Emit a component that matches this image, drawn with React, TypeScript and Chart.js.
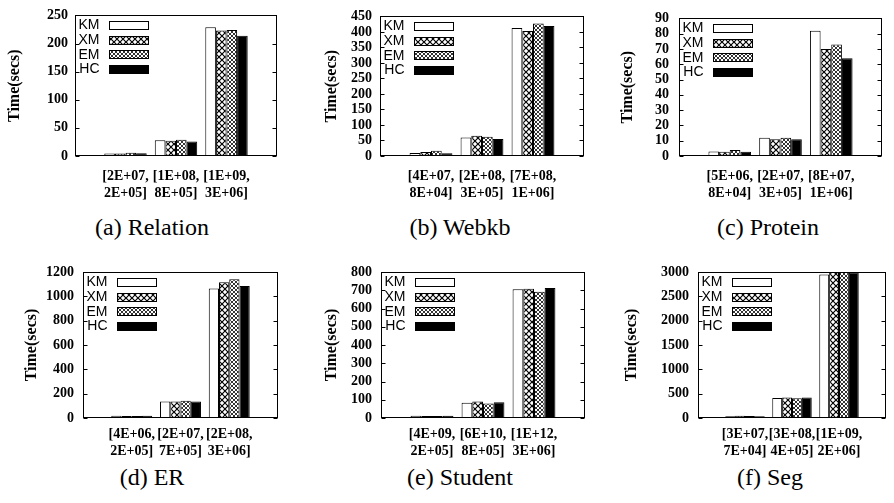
import React, { useEffect, useRef } from "react";
import { Chart, registerables } from "chart.js";

Chart.register(...registerables);

const seriesNames = ["KM", "XM", "EM", "HC"];

// (a) Relation
const relationCats = [["[2E+07,", "2E+05]"], ["[1E+08,", "8E+05]"], ["[1E+09,", "3E+06]"]];
const relationKM = [4.5, 28, 229];
const relationXM = [4.5, 27, 223];
const relationEM = [6, 29, 224];
const relationHC = [5, 26, 214];

// (b) Webkb
const webkbCats = [["[4E+07,", "8E+04]"], ["[2E+08,", "3E+05]"], ["[7E+08,", "1E+06]"]];
const webkbKM = [10, 60, 413];
const webkbXM = [13, 65, 403];
const webkbEM = [17, 62, 427];
const webkbHC = [9, 55, 419];

// (c) Protein
const proteinCats = [["[5E+06,", "8E+04]"], ["[2E+07,", "3E+05]"], ["[8E+07,", "1E+06]"]];
const proteinKM = [3, 12, 82];
const proteinXM = [2.8, 11, 70];
const proteinEM = [4, 12, 73];
const proteinHC = [2.7, 11, 64];

// (d) ER
const erCats = [["[4E+06,", "2E+05]"], ["[2E+07,", "7E+05]"], ["[2E+08,", "3E+06]"]];
const erKM = [18, 135, 1065];
const erXM = [16, 135, 1115];
const erEM = [17, 142, 1140];
const erHC = [18, 135, 1085];

// (e) Student
const studentCats = [["[4E+09,", "2E+05]"], ["[6E+10,", "8E+05]"], ["[1E+12,", "3E+06]"]];
const studentKM = [13, 84, 705];
const studentXM = [11, 90, 708];
const studentEM = [11, 80, 692];
const studentHC = [12, 86, 712];

// (f) Seg
const segCats = [["[3E+07,", "7E+04]"], ["[3E+08,", "4E+05]"], ["[1E+09,", "2E+06]"]];
const segKM = [35, 410, 2950];
const segXM = [45, 420, 3000];
const segEM = [40, 405, 3000];
const segHC = [35, 420, 2990];

const yMaxes = [250, 450, 90, 1200, 800, 3000];
const ySteps = [50, 50, 10, 200, 100, 500];
const captions = ["(a) Relation", "(b) Webkb", "(c) Protein", "(d) ER", "(e) Student", "(f) Seg"];

type Rect = { x: number; y: number; w: number; h: number };
type Frame = { l: number; r: number; t: number; b: number };

function makePattern(size: number, lw: number, color: string) {
  const c = document.createElement("canvas");
  c.width = size;
  c.height = size;
  const g = c.getContext("2d")!;
  g.fillStyle = "#fff";
  g.fillRect(0, 0, size, size);
  g.strokeStyle = color;
  g.lineWidth = lw;
  g.beginPath();
  g.moveTo(-1, -1);
  g.lineTo(size + 1, size + 1);
  g.moveTo(-1, size + 1);
  g.lineTo(size + 1, -1);
  g.stroke();
  const tmp = document.createElement("canvas").getContext("2d")!;
  return tmp.createPattern(c, "repeat")!;
}

function fills(): (string | CanvasPattern)[] {
  return ["#ffffff", makePattern(6, 1.2, "#000"), makePattern(4, 1.0, "#333"), "#000000"];
}

const SERIF = "'Liberation Serif', 'Times New Roman', serif";
const SANS = "'Liberation Sans', Arial, sans-serif";

function Panel(props: {
  rect: Rect;
  frame: Frame;
  titleX: number;
  tickPad: number;
  xPad: number;
  cats: string[][];
  values: number[][];
  yMax: number;
  yStep: number;
}) {
  const ref = useRef<HTMLCanvasElement>(null);
  useEffect(() => {
    const { rect, frame, titleX, tickPad, xPad, cats, values, yMax, yStep } = props;
    const f = fills();
    const labels: any[] = ["", ...cats, ""];
    const datasets = seriesNames.map((n, i) => ({
      label: n,
      data: [null, ...values[i], null],
      backgroundColor: f[i] as any,
      borderColor: "#000",
      borderWidth: 1,
      barPercentage: 1,
      categoryPercentage: 0.84,
    }));
    const framePlugin = {
      id: "frameLegend",
      afterDraw(chart: any) {
        const ctx = chart.ctx as CanvasRenderingContext2D;
        const { left, right, top, bottom } = chart.chartArea;
        ctx.save();
        ctx.strokeStyle = "#000";
        ctx.lineWidth = 1;
        const L = Math.round(left) + 0.5, R = Math.round(right) - 0.5;
        const T = Math.round(top) + 0.5, B = Math.round(bottom) - 0.5;
        ctx.strokeRect(L, T, R - L, B - T);
        const ys = chart.scales.y;
        ctx.beginPath();
        ys.ticks.forEach((t: any) => {
          const py = Math.round(ys.getPixelForValue(t.value)) + 0.5;
          ctx.moveTo(L, py);
          ctx.lineTo(L + 4, py);
          ctx.moveTo(R, py);
          ctx.lineTo(R - 4, py);
        });
        ctx.stroke();
        // legend
        ctx.font = `14px ${SANS}`;
        ctx.textAlign = "right";
        ctx.textBaseline = "middle";
        seriesNames.forEach((n, i) => {
          const cy = Math.round(top) + 10 + 14.7 * i;
          ctx.fillStyle = "#000";
          ctx.fillText(n, L + 24, cy + 0.5);
          const bx = Math.round(L + 33) + 0.5;
          const by = Math.round(cy - 4) + 0.5;
          ctx.fillStyle = f[i] as any;
          ctx.fillRect(bx, by, 39, 8);
          ctx.strokeRect(bx, by, 39, 8);
        });
        ctx.restore();
      },
    };
    const chart = new Chart(ref.current!, {
      type: "bar",
      data: { labels, datasets },
      plugins: [framePlugin],
      options: {
        responsive: false,
        maintainAspectRatio: false,
        animation: false,
        layout: {
          padding: { left: 0, bottom: 0, top: frame.t - rect.y, right: rect.x + rect.w - frame.r },
        },
        plugins: { legend: { display: false }, tooltip: { enabled: false }, title: { display: false } },
        scales: {
          x: {
            type: "category",
            offset: false,
            grid: { display: false, drawTicks: false },
            border: { display: false },
            ticks: {
              autoSkip: false,
              maxRotation: 0,
              minRotation: 0,
              padding: xPad,
              color: "#000",
              font: { family: SERIF, weight: "bold", size: 14, lineHeight: 1.2 },
            },
            afterFit: (s: any) => {
              s.height = rect.y + rect.h - frame.b;
            },
          },
          y: {
            min: 0,
            max: yMax,
            grid: { display: false, drawTicks: false },
            border: { display: false },
            ticks: {
              stepSize: yStep,
              autoSkip: false,
              padding: tickPad,
              color: "#000",
              font: { family: SERIF, weight: "bold", size: 14 },
              callback: (v: any) => String(v),
            },
            title: {
              display: true,
              text: "Time(secs)",
              color: "#000",
              font: { family: SERIF, weight: "bold", size: 16, lineHeight: 1.2 },
              padding: { top: titleX - rect.x - 9.6, bottom: 0 },
            },
            afterFit: (s: any) => {
              s.width = frame.l - rect.x;
            },
          },
        },
      } as any,
    });
    return () => chart.destroy();
  }, []);
  const { rect } = props;
  return (
    <canvas
      ref={ref}
      width={rect.w}
      height={rect.h}
      style={{ position: "absolute", left: rect.x, top: rect.y, width: rect.w, height: rect.h }}
    />
  );
}

const panels = [
  { rect: { x: 0, y: 0, w: 298, h: 205 }, frame: { l: 75, r: 277, t: 9, b: 156 }, titleX: 15, tickPad: 7, xPad: 12, cats: relationCats, values: [relationKM, relationXM, relationEM, relationHC] },
  { rect: { x: 298, y: 0, w: 298, h: 205 }, frame: { l: 380, r: 584, t: 9, b: 156 }, titleX: 332, tickPad: 8, xPad: 12, cats: webkbCats, values: [webkbKM, webkbXM, webkbEM, webkbHC] },
  { rect: { x: 596, y: 0, w: 298, h: 205 }, frame: { l: 679, r: 889, t: 9, b: 156 }, titleX: 628, tickPad: 10, xPad: 12, cats: proteinCats, values: [proteinKM, proteinXM, proteinEM, proteinHC] },
  { rect: { x: 0, y: 250, w: 298, h: 210 }, frame: { l: 83, r: 278, t: 272, b: 418 }, titleX: 32, tickPad: 9, xPad: 8, cats: erCats, values: [erKM, erXM, erEM, erHC] },
  { rect: { x: 298, y: 250, w: 298, h: 210 }, frame: { l: 381, r: 585, t: 272, b: 418 }, titleX: 332, tickPad: 9, xPad: 8, cats: studentCats, values: [studentKM, studentXM, studentEM, studentHC] },
  { rect: { x: 596, y: 250, w: 298, h: 210 }, frame: { l: 698, r: 892, t: 272, b: 418 }, titleX: 632, tickPad: 9, xPad: 8, cats: segCats, values: [segKM, segXM, segEM, segHC] },
];

const captionPos = [
  { x: 152, y: 227 },
  { x: 460, y: 227 },
  { x: 768, y: 227 },
  { x: 152, y: 477 },
  { x: 460, y: 477 },
  { x: 770, y: 477 },
];

export default function App() {
  return (
    <div style={{ position: "absolute", left: 0, top: 0, width: 894, height: 503, background: "#fff", overflow: "hidden" }}>
      {panels.map((p, i) => (
        <Panel key={i} {...p} yMax={yMaxes[i]} yStep={ySteps[i]} />
      ))}
      {captions.map((c, i) => (
        <div
          key={"c" + i}
          style={{
            position: "absolute",
            left: captionPos[i].x - 100,
            top: captionPos[i].y - 15,
            width: 200,
            height: 30,
            lineHeight: "30px",
            textAlign: "center",
            fontFamily: SERIF,
            fontSize: 24,
            color: "#000",
            whiteSpace: "nowrap",
          }}
        >
          {c}
        </div>
      ))}
    </div>
  );
}
